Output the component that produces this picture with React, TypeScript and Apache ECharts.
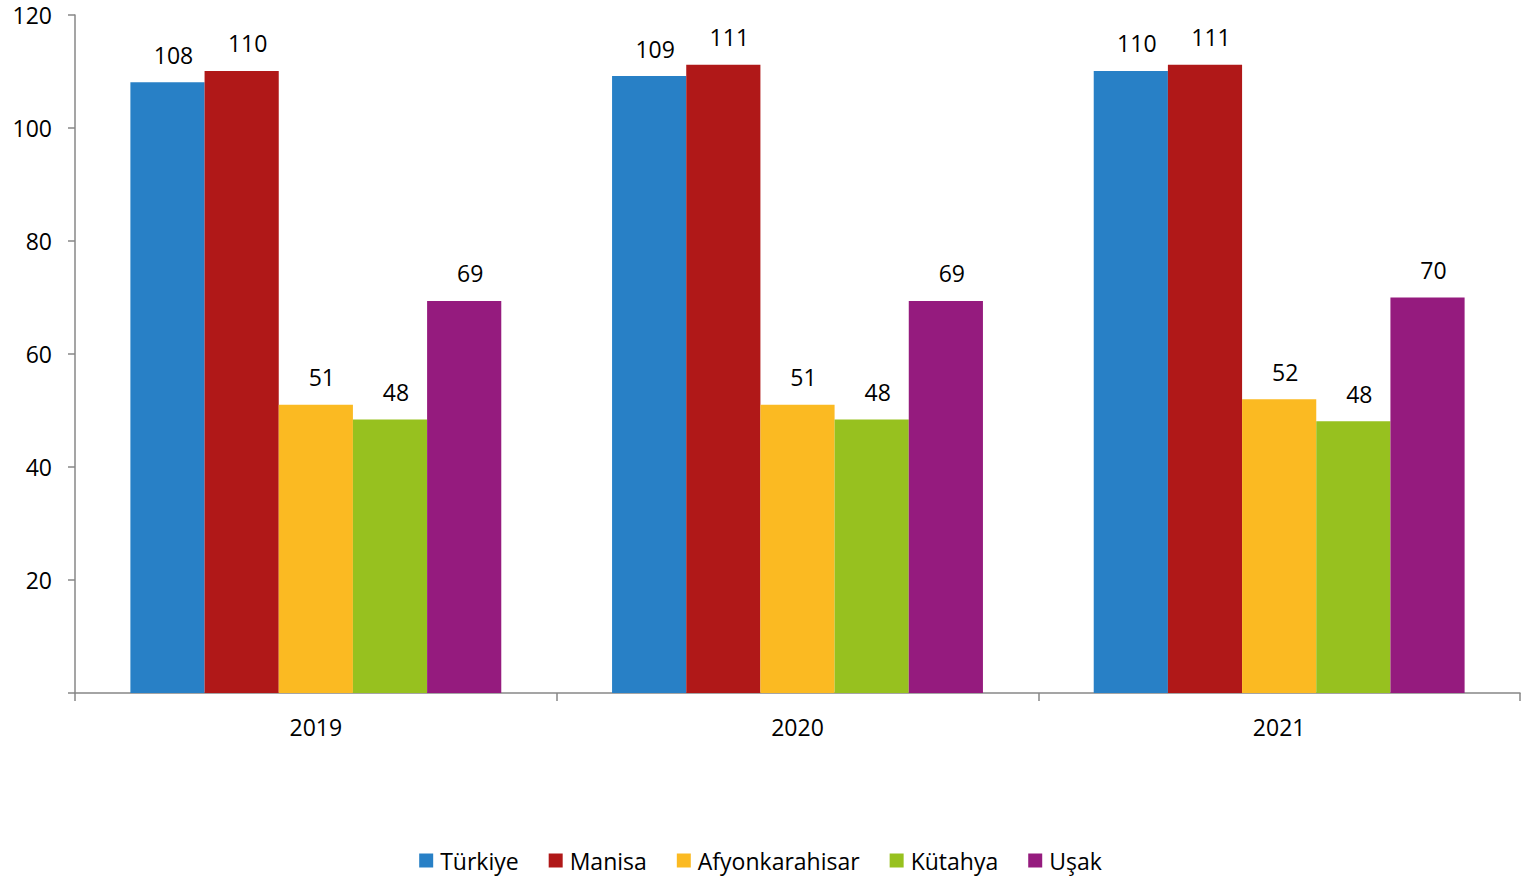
import React, { useEffect, useRef } from "react";
import * as echarts from "echarts";

const categories = ["2019", "2020", "2021"];
const seriesNames = ["Türkiye", "Manisa", "Afyonkarahisar", "Kütahya", "Uşak"];
const turkiye = [108.1, 109.2, 110.1];
const manisa = [110.1, 111.2, 111.2];
const afyon = [51.0, 51.0, 52.0];
const kutahya = [48.4, 48.4, 48.1];
const usak = [69.4, 69.4, 70.0];
const colors = ["#2880C6", "#B01818", "#FBBA22", "#97C11F", "#951B7E"];
const yTicks = [0, 20, 40, 60, 80, 100, 120];

const FONT = "'Open Sans', sans-serif";
const FS = 23;

export default function App() {
  const ref = useRef<HTMLDivElement>(null);
  useEffect(() => {
    if (!ref.current) return;
    const chart = echarts.init(ref.current, null, { renderer: "svg" });
    const values = [turkiye, manisa, afyon, kutahya, usak];
    chart.setOption({
      animation: false,
      backgroundColor: "#ffffff",
      textStyle: { fontFamily: FONT },
      grid: { left: 75, right: 1, top: 15, bottom: 189, containLabel: false },
      legend: {
        bottom: 5,
        left: "center",
        itemWidth: 14,
        itemHeight: 14,
        itemGap: 30,
        icon: "rect",
        textStyle: { fontFamily: FONT, fontSize: FS, color: "#000", padding: [0, 0, 0, 2] },
        data: seriesNames,
      },
      xAxis: {
        type: "category",
        data: categories,
        axisLine: { show: true, lineStyle: { color: "#878787", width: 1.5 } },
        axisTick: { show: true, length: 8, alignWithLabel: false, lineStyle: { color: "#878787", width: 1.5 } },
        axisLabel: { fontFamily: FONT, fontSize: FS, color: "#000", margin: 22 },
      },
      yAxis: {
        type: "value",
        min: yTicks[0],
        max: yTicks[yTicks.length - 1],
        interval: 20,
        splitLine: { show: false },
        axisLine: { show: true, lineStyle: { color: "#878787", width: 1.5 } },
        axisTick: { show: true, length: 7, lineStyle: { color: "#878787", width: 1.5 } },
        axisLabel: {
          fontFamily: FONT,
          fontSize: FS,
          color: "#000",
          margin: 23,
          formatter: (v: number) => (v === 0 ? "" : String(v)),
        },
      },
      series: seriesNames.map((name, i) => ({
        name,
        type: "bar",
        data: values[i],
        barGap: "0%",
        barCategoryGap: "23%",
        itemStyle: { color: colors[i] },
        label: {
          show: true,
          position: "top",
          distance: 16,
          offset: [6, 0],
          fontFamily: FONT,
          fontSize: FS,
          color: "#000",
          formatter: (p: any) => Number(p.value).toFixed(0),
        },
      })),
    });
    return () => chart.dispose();
  }, []);
  return (
    <div
      ref={ref}
      style={{ position: "absolute", left: 0, top: 0, width: 1521, height: 882 }}
    />
  );
}
